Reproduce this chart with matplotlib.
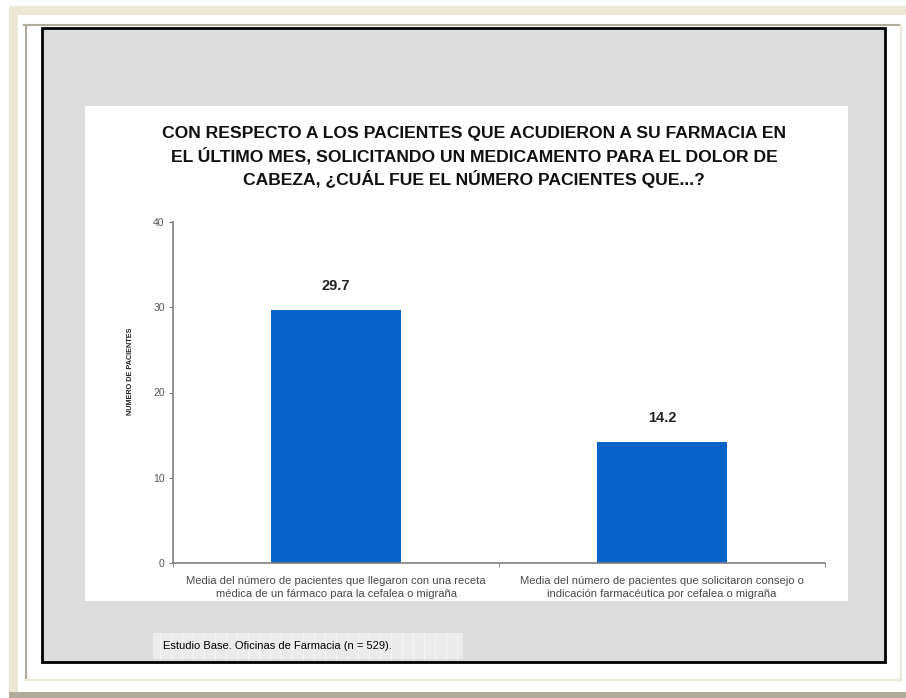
import matplotlib.pyplot as plt
from matplotlib.patches import Rectangle
from matplotlib.lines import Line2D

# Datos del gráfico
categorias = [
    'Media del número de pacientes que llegaron con una receta\nmédica de un fármaco para la cefalea o migraña',
    'Media del número de pacientes que solicitaron consejo o\nindicación farmacéutica por cefalea o migraña',
]
valores = [29.7, 14.2]
ticks_y = [0, 10, 20, 30, 40]

titulo = ('CON RESPECTO A LOS PACIENTES QUE ACUDIERON A SU FARMACIA EN\n'
          'EL ÚLTIMO MES, SOLICITANDO UN MEDICAMENTO PARA EL DOLOR DE\n'
          'CABEZA, ¿CUÁL FUE EL NÚMERO PACIENTES QUE...?')
nota = 'Estudio Base. Oficinas de Farmacia (n = 529).'

W, H = 906, 698
fig = plt.figure(figsize=(W / 100, H / 100), dpi=100)
fig.patch.set_facecolor('white')


def rect(x0, y0, x1, y1, **kw):
    # rectángulo en píxeles (origen arriba a la izquierda)
    r = Rectangle((x0 / W, 1 - y1 / H), (x1 - x0) / W, (y1 - y0) / H,
                  transform=fig.transFigure, **kw)
    fig.add_artist(r)
    return r


def linea(x0, y0, x1, y1, **kw):
    ln = Line2D([x0 / W, x1 / W], [1 - y0 / H, 1 - y1 / H],
                transform=fig.transFigure, **kw)
    fig.add_artist(ln)


# marco exterior de la página
rect(9, 6, 906, 15, facecolor='#EBE8D8', edgecolor='none')
rect(9, 6, 18, 692, facecolor='#EBE8D8', edgecolor='none')
rect(9, 692, 906, 698, facecolor='#B0AC9C', edgecolor='none')
linea(24, 25, 901, 25, color='#B0AC9C', lw=1.5)
linea(25.5, 25, 25.5, 679, color='#B0AC9C', lw=1.5)
linea(25, 680, 901, 680, color='#EBE8D8', lw=1.5)
linea(901, 25, 901, 680, color='#EBE8D8', lw=1.5)

# recuadro gris con borde negro
rect(42, 28, 885, 662, facecolor='#DCDCDC', edgecolor='black', lw=2)

# panel blanco del gráfico
rect(85, 106, 848, 601, facecolor='white', edgecolor='none')

# nota al pie
rect(153, 633, 463, 659, facecolor='#EBEBEB', edgecolor='none')
for gx in range(160, 463, 11):
    linea(gx, 633, gx, 659, color='#F4F4F4', lw=0.8)
fig.text(163 / W, 1 - 646 / H, nota, fontsize=8, family='Liberation Sans',
         color='black', va='center', ha='left')

# título
fig.text(474 / W, 1 - 157 / H, titulo, fontsize=12.6, fontweight='bold',
         family='Liberation Sans', ha='center', va='center',
         linespacing=1.38, color='#111111')

# ejes
ax = fig.add_axes([173 / W, 1 - 563 / H, (825 - 173) / W, (563 - 222) / H])
ax.set_zorder(5)
ax.set_facecolor('none')

x = list(range(len(valores)))
ax.bar(x, valores, width=0.4, color='#0563C9', zorder=2)
for xi, v in zip(x, valores):
    ax.text(xi, v + 2.8, f'{v:.1f}', ha='center', va='center',
            fontsize=10.5, fontweight='bold', family='Liberation Sans', color='#222222')

ax.set_xlim(-0.5, 1.5)
ax.set_ylim(0, 40)
ax.set_yticks(ticks_y)
ax.set_yticklabels([str(t) for t in ticks_y], family='Liberation Sans',
                   fontsize=7.5, color='#555555')
ax.set_xticks(x)
ax.set_xticklabels(categorias, family='Liberation Sans', fontsize=8.1,
                   color='#4A4A4A', linespacing=1.45)
ax.set_xticks([-0.5, 0.5, 1.5], minor=True)
ax.tick_params(axis='x', which='major', length=0, pad=9)
ax.tick_params(axis='x', which='minor', length=3, direction='out', color='#777777')
ax.tick_params(axis='y', length=3, direction='out', color='#777777', pad=3)

for lado in ['top', 'right']:
    ax.spines[lado].set_visible(False)
for lado in ['left', 'bottom']:
    ax.spines[lado].set_color('#808080')
    ax.spines[lado].set_linewidth(1.2)

ax.set_ylabel('NUMERO DE PACIENTES', fontsize=5.2, fontweight='bold',
              family='Liberation Sans', color='#222222')
ax.yaxis.set_label_coords((134 - 173) / (825 - 173), (563 - 371) / (563 - 222))

fig.savefig('out.png', dpi=100)
